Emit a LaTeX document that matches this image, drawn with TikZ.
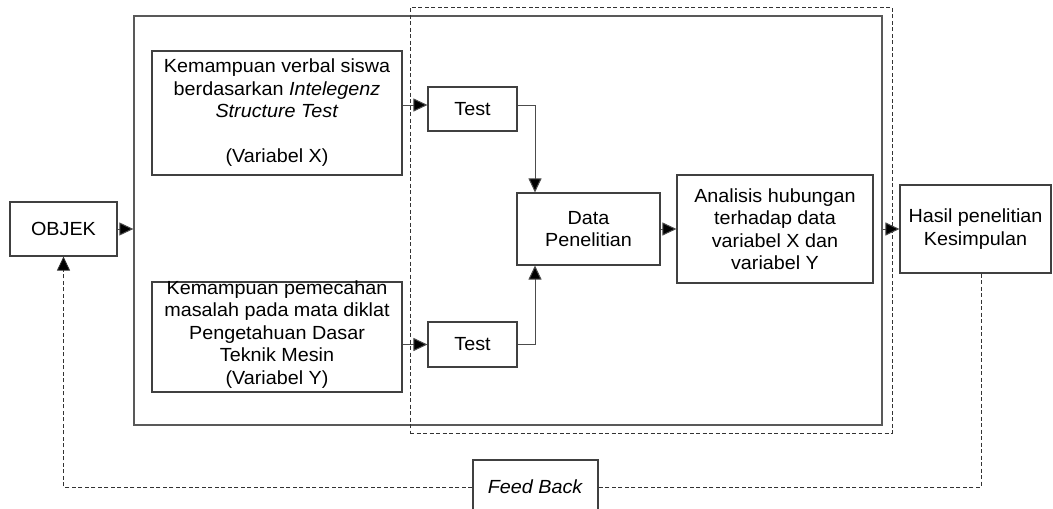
\documentclass[tikz,border=0pt]{standalone}
\usepackage{fontspec}
\setmainfont[FakeStretch=1.04]{Liberation Sans}
\usetikzlibrary{arrows.meta,calc}
\begin{document}
\begin{tikzpicture}[x=1pt,y=-1pt,
  every node/.style={font=\fontsize{19}{22.5}\selectfont, align=center, inner sep=0pt},
  box/.style={draw=black!75, line width=1.1pt, fill=white},
  frame/.style={draw=black!65, line width=1.3pt},
  dframe/.style={draw=black!80, line width=0.8pt, dash pattern=on 4pt off 2.5pt},
  tip/.style={-{Triangle[length=14pt,width=13pt,fill=black]}},
  conn/.style={draw=black!70, line width=1pt, tip},
  dconn/.style={draw=black!80, line width=0.8pt, dash pattern=on 4pt off 2.5pt}]
\clip (0,0) rectangle (1053,509);
\useasboundingbox (0,0) rectangle (1053,509);
\fill[white] (0,0) rectangle (1053,509);
% frames
\node[frame, minimum width=748pt, minimum height=409pt] (outer) at (508,220.5) {};
\node[dframe, minimum width=482pt, minimum height=426pt] (inner) at (651,220) {};
% boxes
\node[box, minimum width=107pt, minimum height=54pt] (objek) at (63.5,229) {OBJEK};
\node[box, minimum width=250pt, minimum height=124pt] (boxX) at (277,113)
  {Kemampuan verbal siswa\\ berdasarkan \textit{Intelegenz}\\ \textit{Structure Test}\\[22.5pt] (Variabel X)};
\node[box, minimum width=250pt, minimum height=110pt] (boxY) at (277,337) {};
\node (boxYtext) at (277,334.5)
  {Kemampuan pemecahan\\ masalah pada mata diklat\\ Pengetahuan Dasar\\ Teknik Mesin\\ (Variabel Y)};
\node[box, minimum width=89pt, minimum height=44pt] (test1) at (472.5,109) {Test};
\node[box, minimum width=89pt, minimum height=45pt] (test2) at (472.5,344.5) {Test};
\node[box, minimum width=143pt, minimum height=72pt] (data) at (588.5,229) {Data\\ Penelitian};
\node[box, minimum width=196pt, minimum height=108pt] (analisis) at (775,229)
  {Analisis hubungan\\ terhadap data\\ variabel X dan\\ variabel Y};
\node[box, minimum width=151pt, minimum height=88pt] (hasil) at (975.5,229)
  {Hasil penelitian\\ Kesimpulan};
% connectors
\coordinate (t1in) at ([yshift=4pt]test1.west);
\coordinate (t1out) at ([yshift=4pt]test1.east);
\draw[conn] (objek.east) -- (objek.east -| outer.west);
\draw[conn] (t1in -| boxX.east) -- (t1in);
\draw[conn] (t1out) -| ([xshift=-53.5pt]data.north);
\draw[conn] (test2.west -| boxY.east) -- (test2.west);
\draw[conn] (test2.east) -| ([xshift=-53.5pt]data.south);
\draw[conn] (data.east) -- (analisis.west);
\draw[conn] (hasil.west -| outer.east) -- (hasil.west);
% feedback
\node[box, minimum width=125pt, minimum height=54pt] (fb) at (535.5,487) {\textit{Feed Back}};
\draw[dconn] ([xshift=5.5pt]hasil.south) |- (fb.east);
\draw[dconn, tip] (fb.west) -| (objek.south);
\end{tikzpicture}
\end{document}
